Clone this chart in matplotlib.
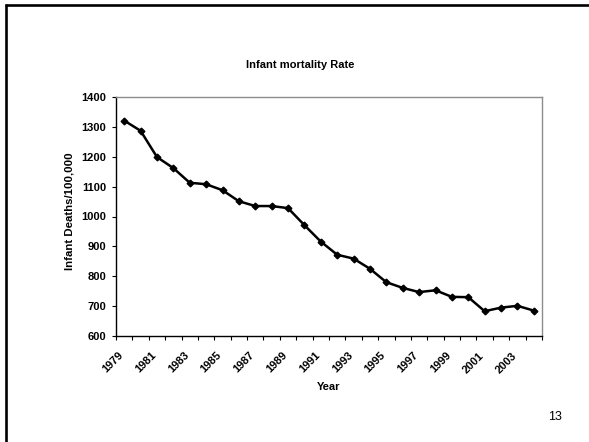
import matplotlib
matplotlib.use("Agg")
import matplotlib.pyplot as plt
from matplotlib.lines import Line2D
from matplotlib.transforms import ScaledTranslation
import numpy as np

plt.rcParams['font.family'] = ['Liberation Sans', 'DejaVu Sans']

years = list(range(1979, 2005))
deaths = [1321, 1287, 1199, 1162, 1113, 1108, 1088, 1051, 1035, 1035,
          1028, 971, 916, 872, 859, 825, 780, 761, 747, 753,
          731, 730, 683, 695, 701, 685]

W, H = 589, 442
fig = plt.figure(figsize=(W / 100, H / 100), dpi=100)
fig.patch.set_facecolor('white')

# slide frame: only the top and left edges fall inside the page
fig.add_artist(Line2D([5 / W, 1], [1 - 4.5 / H, 1 - 4.5 / H], color='black', lw=1.9,
                      transform=fig.transFigure, solid_capstyle='butt'))
fig.add_artist(Line2D([6 / W, 6 / W], [0, 1 - 3.5 / H], color='black', lw=1.9,
                      transform=fig.transFigure, solid_capstyle='butt'))

ax = fig.add_axes([116 / W, 1 - 336 / H, 426 / W, 239 / H])
x = np.arange(len(years))
ax.plot(x, deaths, color='black', lw=1.8, marker='D', markersize=3.4,
        markerfacecolor='black', markeredgecolor='black')

ax.set_xlim(-0.5, len(years) - 0.5)
ax.set_ylim(600, 1400)
ax.set_yticks(range(600, 1401, 100))

# tick marks between categories, labels on every other year
ax.set_xticks(np.arange(-0.5, len(years), 1))
ax.set_xticklabels([])
ax.set_xticks(x[::2], minor=True)
ax.set_xticklabels([str(y) for y in years[::2]], minor=True, rotation=45,
                   ha='right', va='top', rotation_mode='anchor')
ax.tick_params(axis='x', which='major', direction='out', length=3, width=0.8)
ax.tick_params(axis='x', which='minor', length=0, pad=6)
ax.tick_params(axis='y', direction='out', length=3, width=0.8, pad=4)
shift = ScaledTranslation(-6 / 100, -6 / 100, fig.dpi_scale_trans)
for lab in ax.get_xticklabels(minor=True):
    lab.set_transform(lab.get_transform() + shift)
for lab in ax.get_xticklabels(minor=True) + ax.get_yticklabels():
    lab.set_fontsize(8)
    lab.set_fontweight('bold')

for side in ('top', 'right'):
    ax.spines[side].set_color('#8c8c8c')
    ax.spines[side].set_linewidth(1.0)
for side in ('left', 'bottom'):
    ax.spines[side].set_color('black')
    ax.spines[side].set_linewidth(1.0)

fig.text(300 / W, 1 - 65 / H, 'Infant mortality Rate', ha='center', va='center',
         fontsize=8, fontweight='bold')
fig.text(69 / W, 1 - 211 / H, 'Infant Deaths/100,000', ha='center', va='center',
         rotation=90, fontsize=8.2, fontweight='bold')
fig.text(329 / W, 1 - 387 / H, 'Year', ha='center', va='center',
         fontsize=8, fontweight='bold')
fig.text(555 / W, 1 - 417 / H, '13', ha='center', va='center', fontsize=9)

fig.savefig('out.png', dpi=100)
